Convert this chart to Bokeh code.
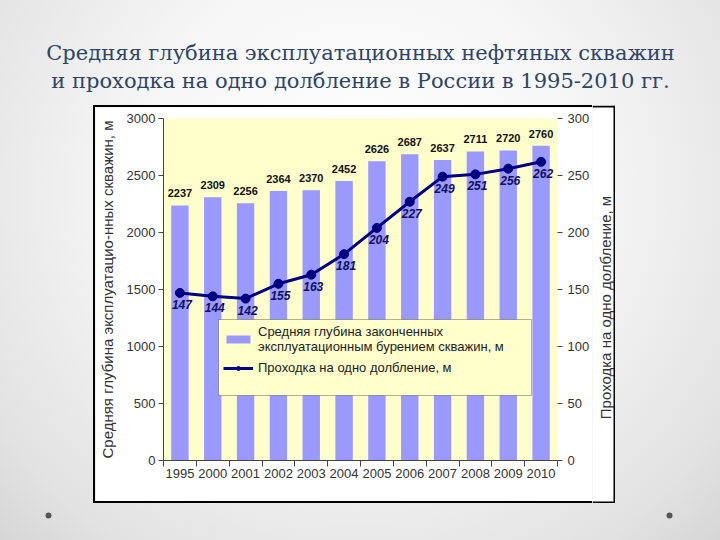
from math import pi
from bokeh.plotting import figure
from bokeh.layouts import column, row
from bokeh.models import (Range1d, LinearAxis, FixedTicker, Label, BoxAnnotation,
                          Legend, LegendItem, ColumnDataSource, Spacer, Span)
from bokeh.core.properties import value
from bokeh.embed import file_html
from bokeh.resources import INLINE

# ---- data ----
years = ["1995", "2000", "2001", "2002", "2003", "2004",
         "2005", "2006", "2007", "2008", "2009", "2010"]
depth = [2237, 2309, 2256, 2364, 2370, 2452, 2626, 2687, 2637, 2711, 2720, 2760]
penetration = [147, 144, 142, 155, 163, 181, 204, 227, 249, 251, 256, 262]
left_ticks = [0, 500, 1000, 1500, 2000, 2500, 3000]
right_ticks = [0, 50, 100, 150, 200, 250, 300]
title_line1 = "Средняя глубина эксплуатационных нефтяных скважин"
title_line2 = "и проходка на одно долбление в России в 1995-2010 гг."
depth_label = "Средняя глубина законченных\nэксплуатационным бурением скважин, м"
pen_label = "Проходка на одно долбление, м"
left_axis_label = "Средняя глубина эксплуатацио-нных скважин, м"
right_axis_label = "Проходка на одно долбление, м"

FONT = "Liberation Sans"
W = 720


def deco_fig(w, h, fill=None):
    f = figure(width=w, height=h, output_backend="svg", toolbar_location=None,
               x_axis_type=None, y_axis_type=None, x_range=Range1d(0, w),
               y_range=Range1d(h, 0), min_border=0)
    f.title.visible = False
    f.outline_line_color = None
    if fill is None:
        f.border_fill_alpha = 0
        f.background_fill_alpha = 0
    else:
        f.border_fill_color = fill
        f.background_fill_color = fill
    return f


def black(w, h):
    return Spacer(width=w, height=h, styles={"background-color": "#000000"})


# ---- title strip ----
tf = deco_fig(W, 105)
for txt, yy in ((title_line1, 52), (title_line2, 80)):
    tf.add_layout(Label(x=W / 2, y=yy, text=txt, text_align="center",
                        text_baseline="middle", text_font="DejaVu Serif",
                        text_font_size="21px", text_color="#2E4466"))

# ---- chart ----
idx = list(range(len(years)))
src = ColumnDataSource(dict(
    x=idx, year=years, depth=depth, pen=penetration,
    depth_txt=[str(v) for v in depth], pen_txt=[str(v) for v in penetration]))

p = figure(width=497, height=394, output_backend="svg", toolbar_location=None,
           x_range=Range1d(-0.5, len(years) - 0.5), y_range=Range1d(0, 3000),
           min_border_left=63, min_border_right=34, min_border_top=11,
           min_border_bottom=41)
p.title.visible = False
p.extra_y_ranges = {"right": Range1d(0, 300)}
p.border_fill_color = "white"
p.background_fill_color = "#FFFFCC"
p.outline_line_color = None
p.xgrid.grid_line_color = None
p.ygrid.grid_line_color = None

S = dict(left_units="screen", right_units="screen", top_units="screen", bottom_units="screen")
p.add_layout(BoxAnnotation(left=55, right=368, top=141, bottom=65, fill_color="#FFFFCC",
                           fill_alpha=1, line_color="black", line_width=1,
                           level="overlay", **S))

bars = p.vbar(x="x", top="depth", width=0.53, source=src,
              fill_color="#9999FF", line_color=None)
ln = p.line("x", "pen", source=src, y_range_name="right",
            line_color="#000080", line_width=3)
pts = p.scatter("x", "pen", source=src, y_range_name="right", size=9,
                fill_color="#000080", line_color="#000080")

p.text("x", "depth", text="depth_txt", source=src, text_align="center",
       text_baseline="alphabetic", y_offset=-12, text_font=value(FONT),
       text_font_style="bold", text_font_size="11px", text_color="#111111")
p.text("x", "pen", text="pen_txt", source=src, y_range_name="right",
       text_align="center", text_baseline="top", x_offset=2, y_offset=7,
       text_font=value(FONT), text_font_style="bold italic",
       text_font_size="12px", text_color="#101060")

ax_col = "#444444"
lab_col = "#333333"
yl = p.yaxis[0]
yl.ticker = FixedTicker(ticks=left_ticks)
yl.axis_label = left_axis_label
yl.axis_label_text_font = FONT
yl.axis_label_text_font_style = "normal"
yl.axis_label_text_font_size = "15px"
yl.axis_label_text_color = lab_col
yl.axis_label_standoff = 8
yl.major_tick_in = 0
yl.major_tick_out = 5
yl.major_label_standoff = 3
yl.axis_line_color = ax_col
yl.major_tick_line_color = ax_col
yl.minor_tick_line_color = None

xa = p.xaxis[0]
xa.ticker = FixedTicker(ticks=idx, minor_ticks=[i - 0.5 for i in range(len(years) + 1)])
xa.major_label_overrides = {i: y for i, y in zip(idx, years)}
xa.major_tick_line_color = None
xa.major_tick_in = 0
xa.major_tick_out = 0
xa.minor_tick_in = 0
xa.minor_tick_out = 6
xa.minor_tick_line_color = ax_col
xa.axis_line_color = ax_col
xa.major_label_standoff = 2

yr = LinearAxis(y_range_name="right", ticker=FixedTicker(ticks=right_ticks))
yr.axis_line_color = None
yr.major_tick_in = 0
yr.major_tick_out = 5
yr.major_label_standoff = 5
yr.major_tick_line_color = ax_col
yr.minor_tick_line_color = None
p.add_layout(yr, "right")

for ax in (yl, xa, yr):
    ax.major_label_text_font = FONT
    ax.major_label_text_font_size = "13px"
    ax.major_label_text_color = lab_col

legend = Legend(items=[LegendItem(label=depth_label, renderers=[bars]),
                       LegendItem(label=pen_label, renderers=[ln, pts])],
                location=(60, 85), background_fill_alpha=0, border_line_color=None,
                label_text_font=FONT, label_text_font_size="13px",
                label_text_color="#222222", glyph_width=30, glyph_height=10,
                padding=4, spacing=6, label_standoff=5, margin=0)
p.add_layout(legend)

# right strip of the picture: right axis title (reads bottom-to-top) + frame edges
rf = deco_fig(23, 398, fill="white")
rf.add_layout(Label(x=13, y=202, text=right_axis_label, angle=pi / 2,
                    text_align="center", text_baseline="middle", text_font=FONT,
                    text_font_size="15px", text_color=lab_col))
for loc, dim in ((1, "width"), (397, "width"), (22, "height")):
    rf.add_layout(Span(location=loc, dimension=dim, line_color="#000000", line_width=2))

box = column(black(497, 2), p, black(497, 2))
chart_row = row(Spacer(width=93, height=398), black(2, 398), box, rf,
                Spacer(width=105, height=398))

# ---- bottom strip with slide dots ----
bf = deco_fig(W, 37)
bf.scatter(x=[48, 669], y=[12, 12], size=6, fill_color="#555555", line_color=None)

page = column(tf, chart_row, bf,
              styles={"background": "radial-gradient(ellipse at 50% 35%, #FFFFFF 0%, "
                                    "#F6F6F6 45%, #E2E2E2 85%, #D6D6D6 100%)"})

open("out.html", "w").write(file_html(page, INLINE))
